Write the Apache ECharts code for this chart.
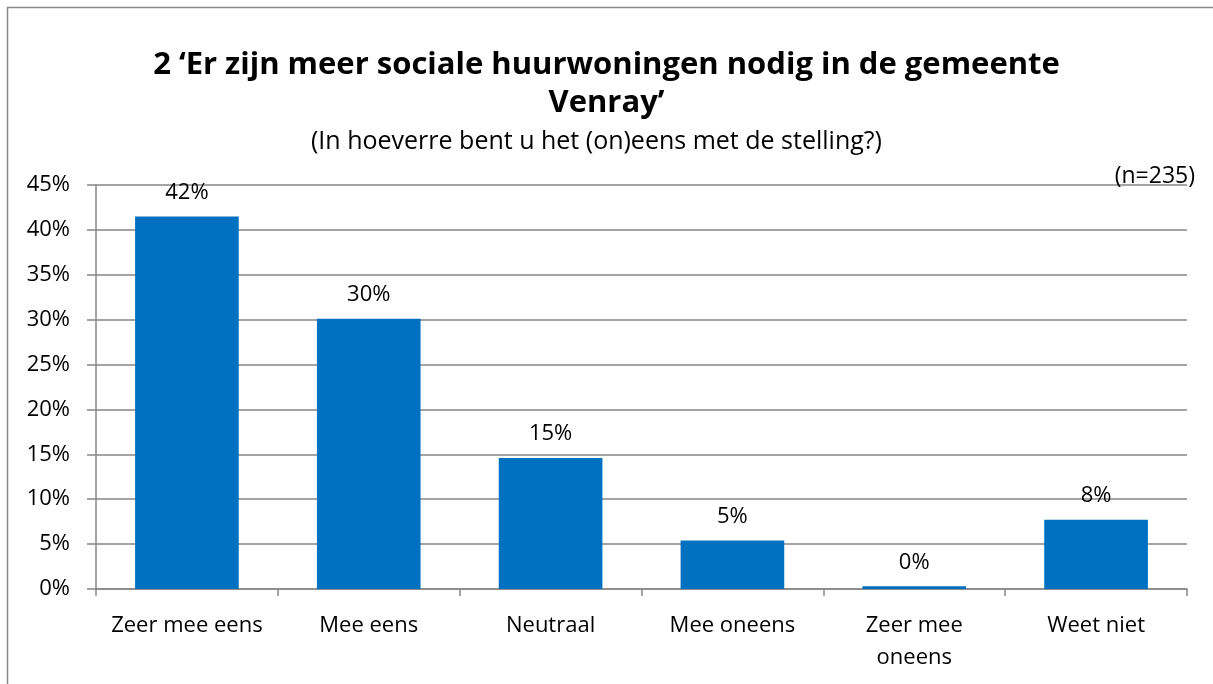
<!DOCTYPE html>
<html>
<head>
<meta charset="utf-8">
<script src="https://cdn.jsdelivr.net/npm/echarts@6/dist/echarts.min.js"></script>
<style>
  html, body { margin: 0; padding: 0; background: #fff; }
  #main { width: 1213px; height: 684px; }
</style>
</head>
<body>
<div id="main"></div>
<script>
// antwoordcategorieën en percentages
var categories = ['Zeer mee eens', 'Mee eens', 'Neutraal', 'Mee oneens', 'Zeer mee\noneens', 'Weet niet'];
var percentages = [41.5, 30.1, 14.6, 5.4, 0.3, 7.7];
var yTicks = [0, 5, 10, 15, 20, 25, 30, 35, 40, 45];

var font = '"Open Sans", Lato, sans-serif';

var chart = echarts.init(document.getElementById('main'));
var option = {
  animation: false,
  textStyle: { fontFamily: font },
  graphic: [{
    type: 'rect',
    shape: { x: 7.5, y: 7.5, width: 1220, height: 700 },
    style: { fill: 'none', stroke: '#898989', lineWidth: 1.5 },
    z: -1
  }],
  title: [
    {
      text: '2 \u2018Er zijn meer sociale huurwoningen nodig in de gemeente\nVenray\u2019',
      left: 'center', top: 41,
      textStyle: { fontFamily: font, fontSize: 31, fontWeight: 'bold', color: '#000', lineHeight: 38 }
    },
    {
      text: '(In hoeverre bent u het (on)eens met de stelling?)',
      left: 306, top: 124,
      textStyle: { fontFamily: font, fontSize: 25, fontWeight: 'normal', color: '#000' }
    },
    {
      text: '(n=235)',
      right: 13, top: 160,
      textStyle: { fontFamily: font, fontSize: 23, fontWeight: 'normal', color: '#000' }
    }
  ],
  grid: { left: 96, right: 26, top: 185, bottom: 95, containLabel: false },
  xAxis: {
    type: 'category',
    data: categories,
    axisLine: { lineStyle: { color: '#868686', width: 1.5 } },
    axisTick: { show: true, length: 7, lineStyle: { color: '#868686', width: 1.5 } },
    axisLabel: { color: '#000', fontSize: 22, margin: 21, lineHeight: 32, interval: 0 }
  },
  yAxis: {
    type: 'value',
    min: 0, max: 45, interval: 5,
    axisLine: { show: true, lineStyle: { color: '#868686', width: 1.5 } },
    axisTick: { show: true, length: 9, lineStyle: { color: '#868686', width: 1.5 } },
    splitLine: { show: true, lineStyle: { color: '#868686', width: 1.5 } },
    axisLabel: {
      color: '#000', fontSize: 22, margin: 26,
      customValues: yTicks,
      formatter: function (v) { return v + '%'; }
    }
  },
  series: [{
    type: 'bar',
    data: percentages,
    barWidth: '57%',
    itemStyle: { color: '#0070C0' },
    label: {
      show: true, position: 'top', distance: 13,
      color: '#000', fontSize: 22,
      formatter: function (p) { return Math.round(p.value) + '%'; }
    }
  }]
};
chart.setOption(option);
</script>
</body>
</html>
